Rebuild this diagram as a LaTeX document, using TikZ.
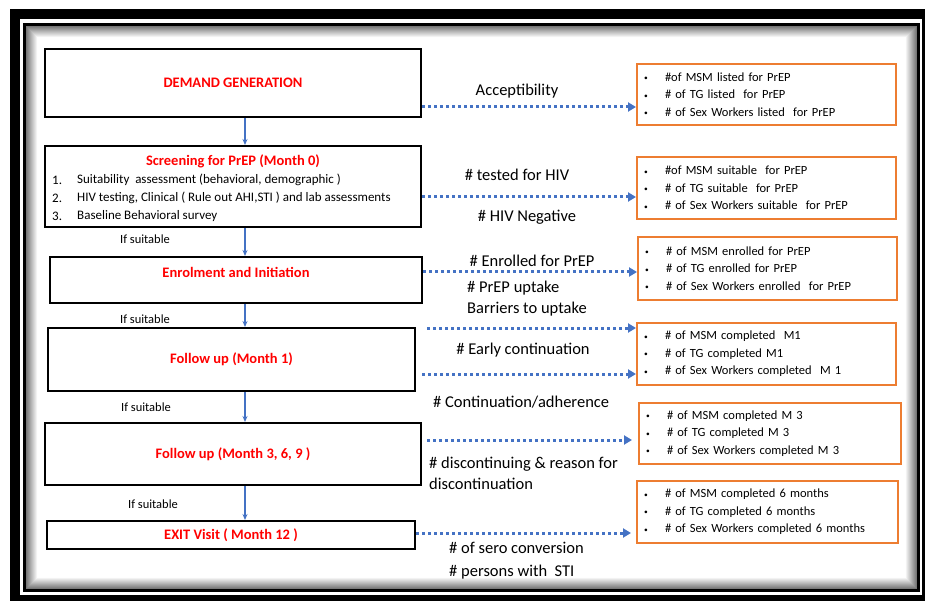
\documentclass[tikz,border=0pt]{standalone}
\usepackage{fontspec}
\setmainfont{Carlito}
\usepackage{graphicx}
\usepackage{tikz}
\usetikzlibrary{arrows.meta,positioning}
\usepackage{xcolor}
\definecolor{flowblue}{HTML}{4472C4}
\definecolor{boxorange}{HTML}{ED7D31}
\definecolor{titlered}{HTML}{FF0000}
\newcommand{\itembul}{\makebox[21pt][l]{\raisebox{0.12ex}{\scalebox{0.6}{\textbullet}}}}
\tikzset{
  stagebox/.style={draw=black,line width=2pt,inner sep=0pt},
  stagetitle/.style={text=titlered,font=\fontsize{14.5}{16}\selectfont\bfseries},
  countbox/.style={draw=boxorange,line width=2pt,minimum width=259pt,text width=245pt,
    inner xsep=7pt,align=left,font=\fontsize{12.5}{17.5}\selectfont},
  flow/.style={flowblue,line width=1.5pt,-{Stealth[length=6pt,width=5pt]}},
  link/.style={flowblue,line width=3pt,dash pattern=on 3pt off 3pt,-{Triangle[length=8pt,width=9pt]}},
  measure/.style={font=\fontsize{16.5}{21}\selectfont,inner sep=0pt},
  condition/.style={font=\fontsize{12.5}{14}\selectfont},
  listitem/.style={anchor=west,inner sep=0pt,font=\fontsize{13}{15}\selectfont},
}

\begin{document}
\begin{tikzpicture}[x=1pt,y=-1pt,line cap=butt]
\useasboundingbox (0,0) rectangle (925,601);
\clip (0,0) rectangle (925,601);
% frame
\draw[line width=10pt] (15,14) rectangle (927,600);
\foreach \i in {1,...,12} {
  \pgfmathsetmacro\tone{58-4.8*\i}
  \draw[line width=1pt,black!\tone] (25.5+\i,25.5+\i) rectangle (917-\i,589-\i);
}
\draw[line width=3pt] (24.5,24.5) rectangle (918,590.5);

% stages
\node[stagebox,stagetitle,minimum width=376pt,minimum height=68pt] (demand) at (233,83) {DEMAND GENERATION};
\node[stagebox,minimum width=376pt,minimum height=81pt] (screen) at (233,186.5) {};
\node[stagetitle] (screentitle) at (233,161) {Screening for PrEP (Month 0)};
\foreach \txt [count=\i] in {{Suitability~ assessment (behavioral, demographic )},
    {HIV testing, Clinical ( Rule out AHI,STI ) and lab assessments},
    {Baseline Behavioral survey}} {
  \node[listitem] (num\i) at (52,162+18*\i) {\i.};
  \node[listitem] (item\i) at (77,162+18*\i) {\txt};
}
\node[stagebox,minimum width=372pt,minimum height=46pt] (enrol) at (236,280) {};
\node[stagetitle] (enroltitle) at (236,272) {Enrolment and Initiation};
\node[stagebox,stagetitle,minimum width=367pt,minimum height=63pt] (month1) at (231.5,359.5) {Follow up (Month 1)};
\node[stagebox,stagetitle,minimum width=376pt,minimum height=62pt] (month3) at (233,454) {Follow up (Month 3, 6, 9 )};
\node[stagebox,stagetitle,minimum width=368pt,minimum height=28pt] (exit) at (231,535) {EXIT Visit ( Month 12 )};

\coordinate (spine) at (245,0);
\draw[flow] (demand.south -| spine) -- (screen.north -| spine);
\draw[flow] (screen.south -| spine) -- (enrol.north -| spine);
\draw[flow] (enrol.south -| spine) -- (month1.north -| spine);
\draw[flow] (month1.south -| spine) -- (month3.north -| spine);
\draw[flow] (month3.south -| spine) -- (exit.north -| spine);
\foreach \x/\y [count=\i] in {145/239,145/319,146/407,153/504}
  \node[condition] (cond\i) at (\x,\y) {If suitable};

% counts
\node[countbox,minimum height=61pt] (listed) at (766.5,94.5)
  {\itembul\#of MSM listed for PrEP\\ \itembul\# of TG listed~ for PrEP\\ \itembul\# of Sex Workers listed~ for PrEP};
\node[countbox,minimum height=62pt] (suitable) at (766.5,188)
  {\itembul\#of MSM suitable~ for PrEP\\ \itembul\# of TG suitable~ for PrEP\\ \itembul\# of Sex Workers suitable~ for PrEP};
\node[countbox,minimum height=63pt] (enrolled) at (767.5,268.5)
  {\itembul\# of MSM enrolled for PrEP\\ \itembul\# of TG enrolled for PrEP\\ \itembul\# of Sex Workers enrolled~ for PrEP};
\node[countbox,minimum height=62pt] (done1) at (766.5,354)
  {\itembul\# of MSM completed~ M1\\ \itembul\# of TG completed M1\\ \itembul\# of Sex Workers completed~ M 1};
\node[countbox,minimum height=61pt,minimum width=262pt,text width=248pt] (done3) at (770,433.5)
  {\itembul\# of MSM completed M 3\\ \itembul\# of TG completed M 3\\ \itembul\# of Sex Workers completed M 3};
\node[countbox,minimum height=62pt,minimum width=261pt,text width=247pt] (done6) at (767.5,512)
  {\itembul\# of MSM completed 6 months\\ \itembul\# of TG completed 6 months\\ \itembul\# of Sex Workers completed 6 months};

% links
\coordinate (lk1) at (0,107);
\coordinate (lk2) at (0,197);
\coordinate (lk3) at (0,272);
\coordinate (lk4) at (427,328);
\coordinate (lk5) at (0,374);
\coordinate (lk6) at (427,440);
\coordinate (lk7) at (0,533);
\draw[link] (demand.east |- lk1) -- (listed.west |- lk1);
\draw[link] (screen.east |- lk2) -- (suitable.west |- lk2);
\draw[link] (enrol.east |- lk3) -- (enrolled.west |- lk3);
\draw[link] (lk4) -- (done1.west |- lk4);
\draw[link] ([xshift=6pt]month1.east |- lk5) -- (done1.west |- lk5);
\draw[link,shorten >=6pt] (lk6) -- (done3.west |- lk6);
\draw[link,shorten >=5pt] (exit.east |- lk7) -- (done6.west |- lk7);

\node[measure] (accept) at (517,91) {Acceptibility};
\node[measure] (tested) at (517,175) {\# tested for HIV};
\node[measure] (negative) at (527,217) {\# HIV Negative};
\node[measure] (enrolcount) at (532,261) {\# Enrolled for PrEP};
\node[measure,anchor=west,align=left] (uptake) at (467,298.5) {\# PrEP uptake\\Barriers to uptake};
\node[measure] (early) at (523,350) {\# Early continuation};
\node[measure,anchor=west] (adherence) at (433,402) {\# Continuation/adherence};
\node[measure,anchor=west,align=left] (discont) at (429,473.5) {\# discontinuing \& reason for\\discontinuation};
\node[measure,anchor=west,align=left,font=\fontsize{16.5}{23}\selectfont] (sero) at (449,560.5) {\# of sero conversion\\\# persons with~ STI};
\end{tikzpicture}
\end{document}
